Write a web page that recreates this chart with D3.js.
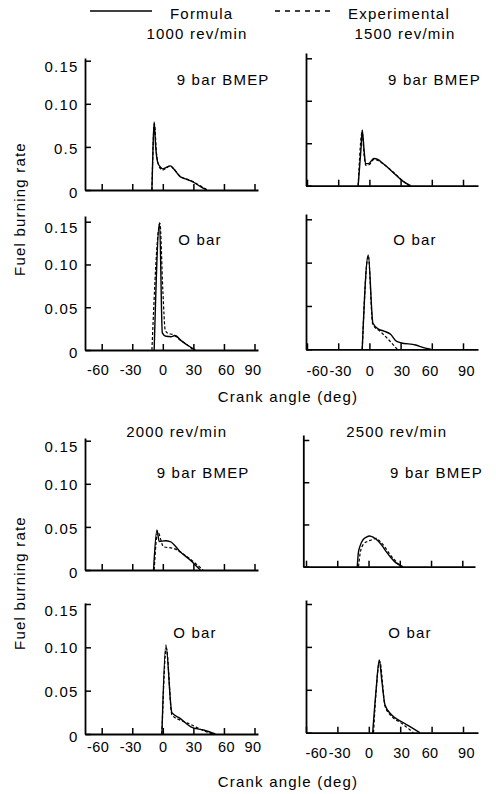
<!DOCTYPE html>
<html><head><meta charset="utf-8">
<script src="https://cdn.jsdelivr.net/npm/d3@7"></script>
<style>
body{margin:0;background:#fff;}
svg text{font-family:"Liberation Sans",Arial,Helvetica,sans-serif;font-size:15px;letter-spacing:1.2px;fill:#000;}
svg .xaxis .tick text{letter-spacing:0.4px;font-size:14.5px;}
</style></head><body>
<svg id="chart" width="496" height="794"></svg>
<script>
// ---------- data ----------
const angleTicks = [-60, -30, 0, 30, 60, 90];
const rateTicks = [0, 0.05, 0.10, 0.15];
const rateLabels = ["0", "0.05", "0.10", "0.15"];
const rateLabelsFirst = ["0", "0.5", "0.10", "0.15"];
const speeds = ["1000 rev/min", "1500 rev/min", "2000 rev/min", "2500 rev/min"];
const loads = ["9 bar BMEP", "O bar"];
const seriesNames = ["Formula", "Experimental"];
const axisTitles = ["Crank angle (deg)", "Fuel burning rate"];

// [crank angle deg, fuel burning rate]
const formula1000Full = [[-10.7,0],[-9.6,0.05],[-8.5,0.079],[-7,0.05],[-5,0.032],[-2.6,0.027],[0,0.0245],[3,0.026],[7.3,0.028],[11,0.024],[17,0.0155],[23,0.0125],[29,0.0097],[37,0.0039],[43,0]];
const exp1000Full     = [[-10.7,0],[-8.3,0.077],[-6,0.04],[-2.6,0.025],[0,0.023],[3,0.025],[7.3,0.028],[11,0.024],[17,0.016],[24,0.0125],[30,0.0095],[38,0.004],[44,0]];
const formula1500Full = [[-10.8,0],[-8,0.045],[-6.9,0.0655],[-5,0.04],[-3.7,0.026],[-1,0.026],[4.3,0.032],[8,0.031],[12.3,0.027],[22,0.0165],[30,0.0075],[35,0.003],[39.7,0]];
const exp1500Full     = [[-10.8,0],[-7,0.063],[-5,0.035],[-3.5,0.024],[0,0.025],[4.3,0.031],[12.3,0.0265],[22,0.017],[30,0.008],[38,0]];
const formula1000Zero = [[-8.5,0],[-3.2,0.1487],[-0.5,0.02],[3,0.016],[8,0.0155],[12,0.017],[18,0.011],[25,0.005],[32,0]];
const exp1000Zero     = [[-10.7,0],[-2.8,0.148],[0,0.07],[2.4,0.023],[5,0.0195],[10,0.018],[17,0.0117],[24,0.006],[30,0]];
const formula1500Zero = [[-6.9,0],[-1.1,0.1088],[3.4,0.030],[9.2,0.023],[14,0.021],[20.4,0.0173],[25.3,0.0099],[30,0.0076],[44.5,0.005],[52,0.002],[59,0]];
const exp1500Zero     = [[-6.9,0],[-1.1,0.108],[3.2,0.029],[10.8,0.0203],[18.8,0.0107],[26.8,0]];
const formula2000Full = [[-9.1,0],[-5.8,0.0464],[-3.5,0.0329],[2.4,0.034],[7.3,0.033],[17,0.0213],[28.7,0.0097],[36.8,0]];
const exp2000Full     = [[-8.5,0],[-5,0.044],[0.7,0.027],[10.5,0.025],[23.7,0.0155],[33.6,0.006],[39.5,0]];
const formula2500Full = [[-10.8,0],[-9.8,0.016],[-8,0.025],[-5.4,0.0316],[-2,0.035],[1,0.0364],[5,0.0345],[9,0.0308],[13,0.025],[17,0.0178],[21,0.0115],[25,0.006],[29,0.0025],[33,0]];
const exp2500Full     = [[-9.6,0],[-8,0.016],[-5.4,0.0257],[-1,0.030],[2.6,0.0316],[7.4,0.0336],[11,0.030],[15.4,0.0237],[20,0.0155],[25,0.008],[29,0.003],[32,0]];
const formula2000Zero = [[-0.9,0],[3,0.1028],[8.9,0.0246],[17,0.018],[28.5,0.0077],[40,0.0046],[51.6,0]];
const exp2000Zero     = [[-0.9,0],[3.5,0.099],[8.9,0.022],[17,0.016],[28.5,0.0104],[36.8,0.0054],[48.4,0]];
const formula2500Zero = [[3.7,0],[7,0.05],[10,0.0847],[12.5,0.06],[15.5,0.0323],[21.9,0.0206],[31.4,0.0128],[39.4,0.007],[48.9,0]];
const exp2500Zero     = [[4.5,0],[10.5,0.083],[15.5,0.031],[21.9,0.019],[31.4,0.011],[42.5,0]];

// ---------- layout ----------
const L = [101.7, 254.5], LR = [85, 258];
const panels = [
  {f:formula1000Full, e:exp1000Full, xt:L, xr:LR, yt:[190,60.7], yTop:58, yLab:rateLabelsFirst, title:speeds[0], tx:197, ty:38.7, load:loads[0], lx:176.7, ly:85.4, side:"L"},
  {f:formula1500Full, e:exp1500Full, xt:[307,463], xr:[306,478], yt:[185.7,58.3], yTop:53, title:speeds[1], tx:405, ty:38.7, load:loads[0], lx:388, ly:85.4, side:"R"},
  {f:formula1000Zero, e:exp1000Zero, xt:L, xr:LR, yt:[350,221.7], yTop:216, yLab:rateLabels, xGap:20, load:loads[1], lx:178.3, ly:244.7, side:"L"},
  {f:formula1500Zero, e:exp1500Zero, xt:[307,463], xr:[306,478], yt:[349.3,219.3], yTop:214, xGap:22, load:loads[1], lx:393.3, ly:245.4, side:"R"},
  {f:formula2000Full, e:exp2000Full, xt:L, xr:LR, yt:[570,440.7], yTop:438, yLab:rateLabels, title:speeds[2], tx:176.7, ty:437, load:loads[0], lx:156.7, ly:478.4, side:"L"},
  {f:formula2500Full, e:exp2500Full, xt:[306,462.3], xr:[303.3,475], yt:[566.7,440], yTop:435, title:speeds[3], tx:396.7, ty:437, load:loads[0], lx:390, ly:478.4, side:"R"},
  {f:formula2000Zero, e:exp2000Zero, xt:L, xr:LR, yt:[734,604], yTop:603, yLab:rateLabels, xGap:13, load:loads[1], lx:173.3, ly:638, side:"L"},
  {f:formula2500Zero, e:exp2500Zero, xt:[306,463], xr:[306,478], yt:[732.7,604], yTop:600, xGap:20.5, load:loads[1], lx:388.3, ly:638, side:"R"}
];
const labelDx = {
  L: {"-60":-4, "-30":-2, "0":0, "30":0, "60":2, "90":-2},
  R: {"-60":10, "-30":2, "0":0, "30":1, "60":-2, "90":3}
};
const yLabelDy = {"0":2, "0.05":1, "0.1":0, "0.15":6};

const svg = d3.select("#chart");

panels.forEach(p => {
  const x0 = d3.scaleLinear().domain([-60, 90]).range(p.xt);
  const x = d3.scaleLinear().domain([x0.invert(p.xr[0]), x0.invert(p.xr[1])]).range(p.xr);
  const y0 = d3.scaleLinear().domain([0, 0.15]).range(p.yt);
  const y = d3.scaleLinear().domain([0, y0.invert(p.yTop)]).range([p.yt[0], p.yTop]);

  const gx = svg.append("g").attr("class", "xaxis").attr("transform", `translate(0,${p.yt[0]})`)
    .call(d3.axisBottom(x).tickValues(angleTicks).tickSizeInner(-6).tickSizeOuter(0)
      .tickFormat(p.xGap ? (d => String(d)) : (() => "")));
  gx.attr("font-family", null).attr("font-size", null);
  gx.selectAll("text").attr("y", p.xGap || 0).attr("dy", "0.35em")
    .attr("dx", d => labelDx[p.side][String(d)] || 0);

  const gy = svg.append("g").attr("transform", `translate(${p.xr[0]},0)`)
    .call(d3.axisLeft(y).tickValues(rateTicks).tickSizeInner(-6).tickSizeOuter(0).tickPadding(6.5)
      .tickFormat(p.yLab ? ((d, i) => p.yLab[i]) : (() => "")));
  gy.attr("font-family", null).attr("font-size", null);
  gy.selectAll("text").attr("dy", "0.35em")
    .attr("transform", d => `translate(0,${yLabelDy[String(d)] || 0})`);

  svg.selectAll(".domain").attr("stroke-width", 1.8);
  svg.selectAll(".tick line").attr("stroke-width", 1.5);

  const line = d3.line().x(d => x(d[0])).y(d => y(d[1])).curve(d3.curveMonotoneX);
  svg.append("path").datum(p.e).attr("d", line).attr("fill", "none")
    .attr("stroke", "#000").attr("stroke-width", 1.2).attr("stroke-dasharray", "3,2");
  svg.append("path").datum(p.f).attr("d", line).attr("fill", "none")
    .attr("stroke", "#000").attr("stroke-width", 1.4);

  if (p.title) svg.append("text").attr("x", p.tx).attr("y", p.ty).attr("text-anchor", "middle").text(p.title);
  svg.append("text").attr("x", p.lx).attr("y", p.ly).text(p.load);
});

// legend
svg.append("line").attr("x1", 90).attr("x2", 152).attr("y1", 11).attr("y2", 11)
  .attr("stroke", "#000").attr("stroke-width", 1.4);
svg.append("text").attr("x", 170).attr("y", 18.5).text(seriesNames[0]);
svg.append("line").attr("x1", 275).attr("x2", 333).attr("y1", 11).attr("y2", 11)
  .attr("stroke", "#000").attr("stroke-width", 1.3).attr("stroke-dasharray", "5,5");
svg.append("text").attr("x", 348).attr("y", 18.5).text(seriesNames[1]);

// axis titles
[402, 787].forEach(yy => svg.append("text").attr("x", 288).attr("y", yy).attr("text-anchor", "middle").text(axisTitles[0]));
[209, 583].forEach(cy => svg.append("text").attr("transform", `translate(25.4,${cy}) rotate(-90)`)
  .attr("text-anchor", "middle").text(axisTitles[1]));
</script>
</body></html>
